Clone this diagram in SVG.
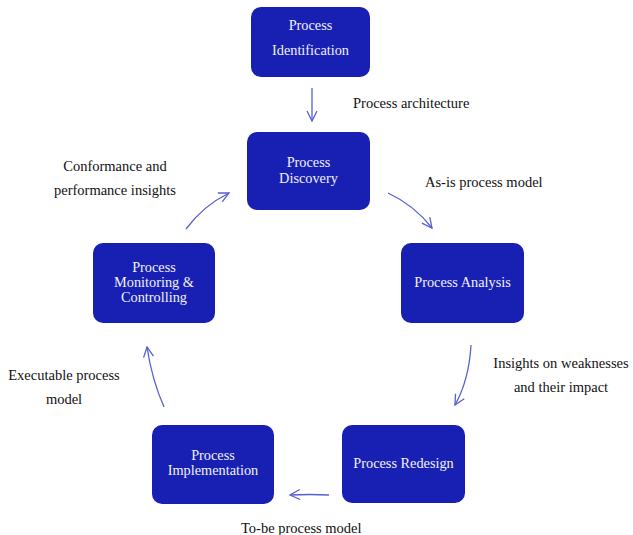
<svg xmlns="http://www.w3.org/2000/svg" width="633" height="535" viewBox="0 0 633 535">
  <style>
    text { font-family: 'Liberation Serif', 'Times New Roman', Times, serif; font-size: 14.5px; }
    .box { fill: #1820b4; }
    .nt { fill: #f2f2f8; text-anchor: middle; font-size: 14.3px; }
    .lb { fill: #111111; }
    .mid { text-anchor: middle; }
    .edge { fill: none; stroke: #5561d2; stroke-width: 1.3; marker-end: url(#chev); }
  </style>
  <defs>
    <marker id="chev" viewBox="0 0 12 12" refX="11" refY="6" markerWidth="12" markerHeight="12" markerUnits="userSpaceOnUse" orient="auto">
      <path d="M1,1 L11,6 L1,11" fill="none" stroke="#5561d2" stroke-width="1.3"/>
    </marker>
  </defs>

  <rect width="633" height="535" fill="#ffffff"/>

  <g id="connectors">
    <path class="edge" d="M312,88 L312,121"/>
    <path class="edge" d="M388,193 Q414,205 432,228"/>
    <path class="edge" d="M471,345 Q469,380 455,405"/>
    <path class="edge" d="M329,495 Q310,494 290,495"/>
    <path class="edge" d="M164,407 Q152,380 147,347"/>
    <path class="edge" d="M186,229 Q203,206 229,193"/>
  </g>

  <g id="node-identification">
    <rect class="box" x="251" y="7" width="119" height="70" rx="10"/>
    <text class="nt" x="310.5" y="30">Process</text>
    <text class="nt" x="310.5" y="55">Identification</text>
  </g>
  <g id="node-discovery">
    <rect class="box" x="247" y="132" width="123" height="78" rx="10"/>
    <text class="nt" x="308.5" y="167">Process</text>
    <text class="nt" x="308.5" y="183">Discovery</text>
  </g>
  <g id="node-analysis">
    <rect class="box" x="401" y="243" width="123" height="80" rx="10"/>
    <text class="nt" x="462.5" y="287">Process Analysis</text>
  </g>
  <g id="node-redesign">
    <rect class="box" x="342" y="425" width="123" height="78" rx="10"/>
    <text class="nt" x="403.5" y="468">Process Redesign</text>
  </g>
  <g id="node-implementation">
    <rect class="box" x="152" y="425" width="122" height="79" rx="10"/>
    <text class="nt" x="213" y="460">Process</text>
    <text class="nt" x="213" y="475">Implementation</text>
  </g>
  <g id="node-monitoring">
    <rect class="box" x="93" y="243" width="122" height="80" rx="10"/>
    <text class="nt" x="154" y="272">Process</text>
    <text class="nt" x="154" y="287">Monitoring &amp;</text>
    <text class="nt" x="154" y="302">Controlling</text>
  </g>

  <g id="labels">
    <text class="lb" x="353" y="108">Process architecture</text>
    <text class="lb" x="425" y="187">As-is process model</text>
    <text class="lb mid" x="561" y="368">Insights on weaknesses</text>
    <text class="lb mid" x="561" y="392">and their impact</text>
    <text class="lb" x="241" y="533">To-be process model</text>
    <text class="lb mid" x="64" y="380">Executable process</text>
    <text class="lb mid" x="64" y="404">model</text>
    <text class="lb mid" x="115" y="171">Conformance and</text>
    <text class="lb mid" x="115" y="195">performance insights</text>
  </g>
</svg>
